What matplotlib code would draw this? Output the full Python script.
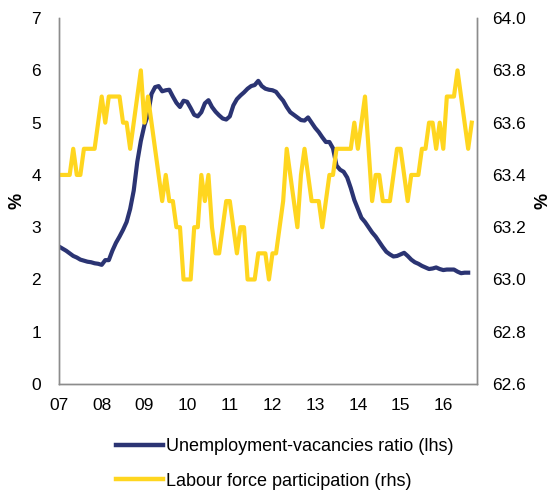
import matplotlib
matplotlib.use("Agg")
import matplotlib.pyplot as plt
from matplotlib.lines import Line2D
import numpy as np

plt.rcParams['font.family'] = ['Liberation Sans', 'DejaVu Sans']

# Monthly data starting January 2007
uv_ratio = [2.63, 2.59, 2.55, 2.50, 2.45, 2.42, 2.38, 2.36, 2.34, 2.33, 2.31, 2.30,
            2.28, 2.37, 2.37, 2.55, 2.70, 2.82, 2.95, 3.10, 3.35, 3.70, 4.25, 4.65,
            4.95, 5.15, 5.55, 5.68, 5.70, 5.60, 5.62, 5.63, 5.50, 5.38, 5.30, 5.42,
            5.40, 5.28, 5.15, 5.12, 5.20, 5.37, 5.43, 5.30, 5.21, 5.14, 5.08, 5.06,
            5.12, 5.33, 5.45, 5.52, 5.58, 5.65, 5.70, 5.72, 5.80, 5.70, 5.65, 5.63,
            5.62, 5.59, 5.50, 5.42, 5.30, 5.20, 5.15, 5.10, 5.05, 5.04, 5.10, 5.00,
            4.90, 4.82, 4.72, 4.63, 4.63, 4.51, 4.18, 4.10, 4.06, 3.95, 3.75, 3.52,
            3.35, 3.18, 3.10, 3.00, 2.90, 2.82, 2.72, 2.62, 2.53, 2.48, 2.44, 2.45,
            2.48, 2.51, 2.45, 2.38, 2.33, 2.30, 2.26, 2.23, 2.20, 2.21, 2.23, 2.20,
            2.18, 2.19, 2.19, 2.19, 2.15, 2.12, 2.13, 2.13]

participation = [63.4, 63.4, 63.4, 63.4, 63.5, 63.4, 63.4, 63.5, 63.5, 63.5, 63.5, 63.6,
                 63.7, 63.6, 63.7, 63.7, 63.7, 63.7, 63.6, 63.6, 63.5, 63.6, 63.7, 63.8,
                 63.6, 63.7, 63.6, 63.5, 63.4, 63.3, 63.4, 63.3, 63.3, 63.2, 63.2, 63.0,
                 63.0, 63.0, 63.2, 63.2, 63.4, 63.3, 63.4, 63.2, 63.1, 63.1, 63.2, 63.3,
                 63.3, 63.2, 63.1, 63.2, 63.2, 63.0, 63.0, 63.0, 63.1, 63.1, 63.1, 63.0,
                 63.1, 63.1, 63.2, 63.3, 63.5, 63.4, 63.3, 63.2, 63.4, 63.5, 63.4, 63.3,
                 63.3, 63.3, 63.2, 63.3, 63.4, 63.4, 63.5, 63.5, 63.5, 63.5, 63.5, 63.6,
                 63.5, 63.6, 63.7, 63.5, 63.3, 63.4, 63.4, 63.3, 63.3, 63.3, 63.4, 63.5,
                 63.5, 63.4, 63.3, 63.4, 63.4, 63.4, 63.5, 63.5, 63.6, 63.6, 63.5, 63.6,
                 63.5, 63.7, 63.7, 63.7, 63.8, 63.7, 63.6, 63.5, 63.6]

year_labels = ['07', '08', '09', '10', '11', '12', '13', '14', '15', '16']
left_ticks = [0, 1, 2, 3, 4, 5, 6, 7]
right_ticks = [62.6, 62.8, 63.0, 63.2, 63.4, 63.6, 63.8, 64.0]

NAVY = '#2B3473'
GOLD = '#FFD61F'
SPINE = '#8C8C8C'

fig = plt.figure(figsize=(5.53, 4.90), dpi=100)
ax = fig.add_axes([0.1067, 0.2163, 0.756, 0.7467])
ax2 = ax.twinx()

x_uv = np.arange(len(uv_ratio))
x_pa = np.arange(len(participation))

ax.plot(x_uv, uv_ratio, color=NAVY, lw=3.0, solid_joinstyle='round')
ax2.plot(x_pa, participation, color=GOLD, lw=3.0, solid_joinstyle='round')

ax.set_xlim(0, 117.5)
ax.set_ylim(0, 7)
ax2.set_ylim(62.6, 64.0)

ax.set_xticks(np.arange(len(year_labels)) * 12)
ax.set_xticklabels(year_labels)
ax.set_yticks(left_ticks)
ax.set_yticklabels([str(t) for t in left_ticks])
ax2.set_yticks(right_ticks)
ax2.set_yticklabels([f"{t:.1f}" for t in right_ticks])

for a in (ax, ax2):
    a.tick_params(axis='both', length=0, labelsize=12.5, colors='black')
    a.spines['top'].set_visible(False)
    for side in ('left', 'right', 'bottom'):
        a.spines[side].set_color(SPINE)
        a.spines[side].set_linewidth(1.0)
ax.tick_params(axis='x', pad=10)
ax.tick_params(axis='y', pad=13)
ax2.tick_params(axis='y', pad=11)

ax.set_ylabel('%', fontsize=13, fontweight='bold', labelpad=4)
ax2.set_ylabel('%', fontsize=13, fontweight='bold', labelpad=6)

handles = [Line2D([0], [0], color=NAVY, lw=3.2),
           Line2D([0], [0], color=GOLD, lw=3.2)]
labels = ['Unemployment-vacancies ratio (lhs)', 'Labour force participation (rhs)']
fig.legend(handles, labels, loc='upper left', bbox_to_anchor=(0.196, 0.12),
           frameon=False, fontsize=13, handlelength=2.65, handletextpad=0.15,
           labelspacing=0.95, borderaxespad=0)

fig.savefig('out.png', dpi=100)
